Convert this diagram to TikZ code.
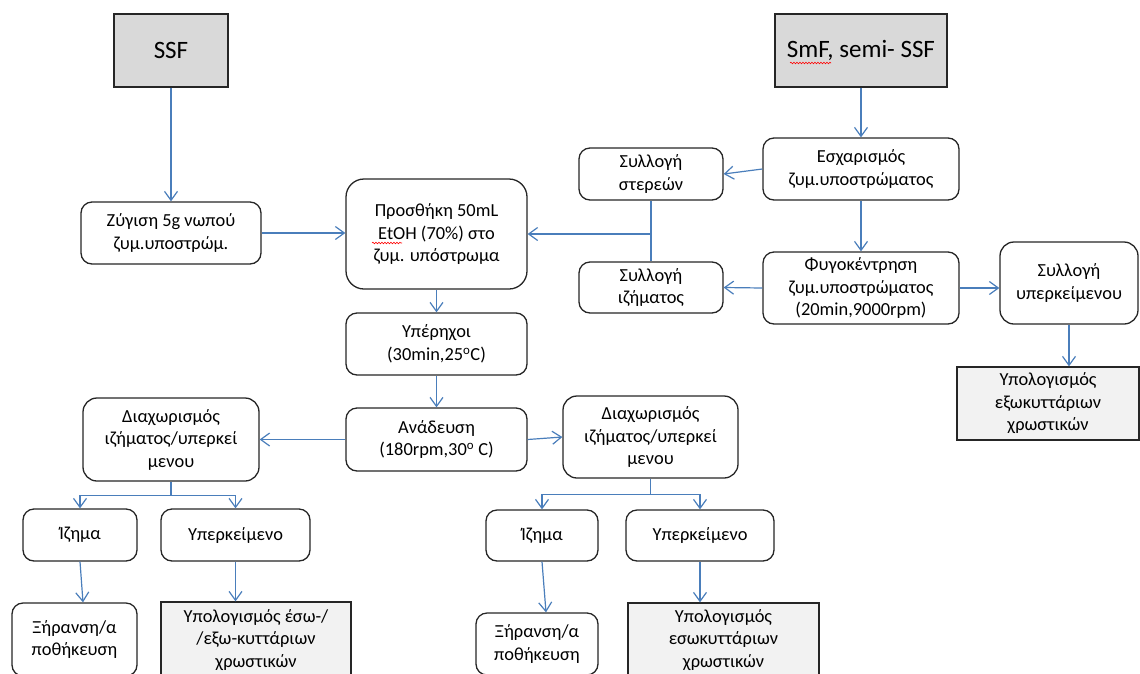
\documentclass[tikz,border=0pt]{standalone}
\usepackage{fontspec}
\setmainfont{Carlito}
\usepackage{tikz}
\usetikzlibrary{arrows.meta, decorations.pathmorphing}
\definecolor{boxgray}{HTML}{D9D9D9}
\definecolor{calcgray}{HTML}{F2F2F2}
\definecolor{flowblue}{HTML}{4A7EBB}
\tikzstyle{block} = [rectangle, draw=black!85, line width=1.3pt, fill=white,
                 rounded corners=11pt, align=center, inner sep=2pt,
                 font=\fontsize{18.4}{22.5}\selectfont]
\tikzstyle{flow} = [draw=flowblue, line width=1.2pt, -{Straight Barb[length=9pt,width=13pt]}]
\tikzstyle{link} = [draw=flowblue, line width=1.2pt]
\tikzset{
	source/.style={block, sharp corners, fill=boxgray, font=\fontsize{25}{30}\selectfont},
	result/.style={block, sharp corners, fill=calcgray},
	spell/.style={draw=red, line width=0.6pt, decorate,
		decoration={snake, amplitude=0.8pt, segment length=3pt}},
}
\begin{document}
\begin{tikzpicture}[x=1pt, y=-1pt]

\useasboundingbox (0,0) rectangle (1140,673);
\clip (0,0) rectangle (1140,673);

% left column
\node [source, minimum width=114pt, minimum height=73pt] at (171,50.5) (ssf) {SSF};
\node [block, minimum width=180pt, minimum height=62pt] at (171,233) (zyg) {Ζύγιση 5g νωπού\\ζυμ.υποστρώμ.};

% right column
\node [source, minimum width=172pt, minimum height=73pt] at (861,50.5) (smf) {SmF, semi- SSF};
\node [block, minimum width=196pt, minimum height=62pt] at (861,169) (esx) {Εσχαρισμός\\ζυμ.υποστρώματος};
\node [block, minimum width=196pt, minimum height=72pt] at (861,288) (fyg) {Φυγοκέντρηση\\ζυμ.υποστρώματος\\(20min,9000rpm)};
\node [block, minimum width=144pt, minimum height=52pt] at (651,174) (ster) {Συλλογή\\στερεών};
\node [block, minimum width=144pt, minimum height=51pt] at (651,287.5) (izim) {Συλλογή\\ιζήματος};
\node [block, rounded corners=14pt, minimum width=138pt, minimum height=82pt] at (1069,283) (syp) {Συλλογή\\υπερκείμενου};
\node [result, minimum width=182pt, minimum height=73pt] at (1048,403.5) (extc) {Υπολογισμός\\εξωκυττάριων\\χρωστικών};

% middle column
\node [block, rounded corners=18pt, minimum width=181pt, minimum height=110pt] at (436.5,234) (pros) {Προσθήκη 50mL\\EtOH (70\%) στο\\ζυμ. υπόστρωμα};
\node [block, minimum width=181pt, minimum height=62pt] at (436.5,344) (yper) {Υπέρηχοι\\(30min,25\textsuperscript{o}C)};
\node [block, minimum width=181pt, minimum height=63pt] at (436.5,439.5) (anad) {Ανάδευση\\(180rpm,30\textsuperscript{o} C)};

% separations
\node [block, rounded corners=14pt, minimum width=176pt, minimum height=83pt] at (171,439.5) (diaL) {Διαχωρισμός\\ιζήματος/υπερκεί\\μενου};
\node [block, rounded corners=14pt, minimum width=175pt, minimum height=82pt] at (650.5,437) (diaR) {Διαχωρισμός\\ιζήματος/υπερκεί\\μενου};

\node [block, minimum width=114pt, minimum height=52pt] at (80,535) (izL) {Ίζημα};
\node [block, minimum width=149pt, minimum height=52pt] at (235.5,535) (ypL) {Υπερκείμενο};
\node [block, minimum width=125pt, minimum height=73pt] at (74.5,639.5) (xirL) {Ξήρανση/α\\ποθήκευση};
\node [result, minimum width=190pt, minimum height=76pt] at (256,640) (ypolL) {Υπολογισμός έσω-/\\/εξω-κυττάριων\\χρωστικών};

\node [block, minimum width=112pt, minimum height=51pt] at (542,535.5) (izR) {Ίζημα};
\node [block, minimum width=148pt, minimum height=51pt] at (700,535.5) (ypR) {Υπερκείμενο};
\node [block, minimum width=122pt, minimum height=62pt] at (537,644) (xirR) {Ξήρανση/α\\ποθήκευση};
\node [result, minimum width=191pt, minimum height=74pt] at (723.5,640) (ypolR) {Υπολογισμός\\εσωκυττάριων\\χρωστικών};

\coordinate (join) at (ster.south |- pros.east);

\path [flow] (ssf) -- (zyg);
\path [flow] (zyg.east) -- (zyg.east -| pros.west);
\path [flow] (smf) -- (esx);
\path [flow] (esx.west) -- (ster.east);
\path [flow] (esx) -- (fyg);
\path [flow] (fyg.west) -- (izim.east);
\path [flow] (fyg.east) -- (fyg.east -| syp.west);
\path [flow] (syp.south) -- (syp.south |- extc.north);
\path [link] (ster.south) -- (izim.north);
\path [flow] (join) -- (pros.east);
\path [flow] (pros) -- (yper);
\path [flow] (yper) -- (anad);
\path [flow] (anad.west) -- (diaL.east);
\path [flow] (anad.east) -- (diaR.west);

\path [flow] (diaL.south) -- ++(0,14) -| (izL.north);
\path [flow] (diaL.south) -- ++(0,14) -| (ypL.north);
\path [flow] (izL.south) -- ([xshift=3pt]izL.south |- xirL.north);
\path [flow] (ypL.south) -- (ypL.south |- ypolL.north);

\path [flow] (diaR.south) -- ++(0,16) -| (izR.north);
\path [flow] (diaR.south) -- ++(0,16) -| (ypR.north);
\path [flow] (izR.south) -- ([xshift=4pt]izR.south |- xirR.north);
\path [flow] (ypR.south) -- (ypR.south |- ypolR.north);

% spelling marks
\draw [spell] (790,63) -- (831,63);
\draw [spell] (372,243) -- (402,243);

\end{tikzpicture}
\end{document}
